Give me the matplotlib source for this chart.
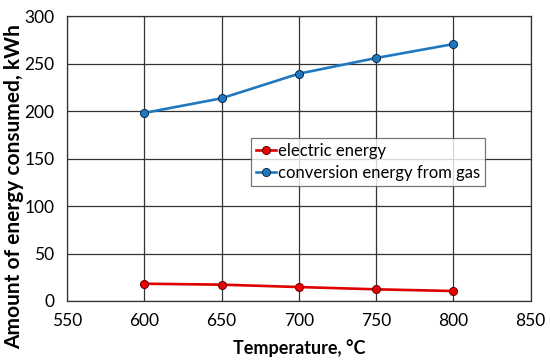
import matplotlib
matplotlib.use("Agg")
import matplotlib.pyplot as plt

temps = [600, 650, 700, 750, 800]
electric = [18.2, 17.2, 14.7, 12.3, 10.5]
gas = [198, 213.4, 239.3, 255.8, 270.5]
xticks = [550, 600, 650, 700, 750, 800, 850]
yticks = [0, 50, 100, 150, 200, 250, 300]

plt.rcParams['font.family'] = ['Lato', 'DejaVu Sans']
fig = plt.figure(figsize=(5.5, 3.63), dpi=100)
ax = fig.add_axes([0.1218, 0.1708, 0.843, 0.785])

ax.plot(temps, electric, color='#e00000', lw=1.9, marker='o', ms=5.8,
        markerfacecolor='#ee0000', markeredgecolor='#600000', mew=0.7,
        label='electric energy', zorder=3)
ax.plot(temps, gas, color='#1f78c0', lw=1.9, marker='o', ms=5.8,
        markerfacecolor='#1f78c0', markeredgecolor='#0a2a50', mew=0.7,
        label='conversion energy from gas', zorder=3)

ax.set_xlim(550, 850)
ax.set_ylim(0, 300)
ax.set_xticks(xticks)
ax.set_yticks(yticks)
ax.grid(True, color='#333333', lw=0.9)
ax.tick_params(length=0, labelsize=12.5, pad=9)
for s in ax.spines.values():
    s.set_color('#333333')
    s.set_linewidth(0.9)

ax.set_xlabel('Temperature, °C', fontsize=13, fontweight='bold', labelpad=7)
fig.text(14.5 / 550, 1 - 186.5 / 363, 'Amount of energy consumed, kWh',
         rotation=90, ha='center', va='center', fontsize=15, fontweight='bold')

leg = ax.legend(loc='upper left', bbox_to_anchor=((251 - 67) / 463.7, (301 - 138) / 285.0),
                borderaxespad=0, fontsize=12, frameon=True, fancybox=False,
                handlelength=1.2, handletextpad=0.1, borderpad=0.3, labelspacing=0.35)
leg.get_frame().set_edgecolor('#555555')
leg.get_frame().set_linewidth(0.9)

fig.savefig('out.png', dpi=100)
